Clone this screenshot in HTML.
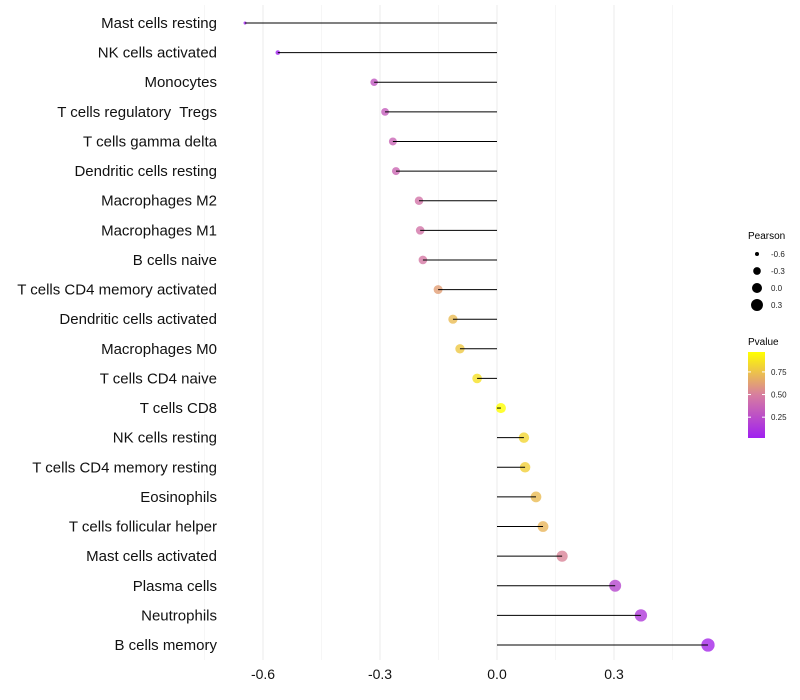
<!DOCTYPE html>
<html><head><meta charset="utf-8"><style>body{margin:0;background:#fff}svg{display:block;font-family:"Liberation Sans",sans-serif}text{white-space:pre}</style></head>
<body>
<svg id="chart" width="800" height="700"></svg>
<script>
const categories=["Mast cells resting","NK cells activated","Monocytes","T cells regulatory  Tregs","T cells gamma delta","Dendritic cells resting","Macrophages M2","Macrophages M1","B cells naive","T cells CD4 memory activated","Dendritic cells activated","Macrophages M0","T cells CD4 naive","T cells CD8","NK cells resting","T cells CD4 memory resting","Eosinophils","T cells follicular helper","Mast cells activated","Plasma cells","Neutrophils","B cells memory"];
const pearson=[-0.646,-0.562,-0.315,-0.287,-0.267,-0.259,-0.2,-0.197,-0.19,-0.151,-0.113,-0.095,-0.051,0.01,0.069,0.072,0.1,0.118,0.167,0.303,0.369,0.541];
const pvalues=[0.01,0.03,0.3,0.33,0.37,0.38,0.45,0.45,0.47,0.62,0.72,0.77,0.86,0.97,0.82,0.8,0.72,0.7,0.52,0.22,0.15,0.06];
const xTicks=[-0.6,-0.3,0.0,0.3];
const sizeLegend=[-0.6,-0.3,0.0,0.3];
const colorTicks=[0.75,0.5,0.25];
const NS="http://www.w3.org/2000/svg",svg=document.getElementById('chart');
function mk(t,a,p){const e=document.createElementNS(NS,t);for(const k in a)e.setAttribute(k,a[k]);(p||svg).appendChild(e);return e;}
const x=v=>497+v*390;
const y=i=>23+i*(622/21);
const rad=v=>Math.sqrt(Math.max(1.5,4+(v+0.6)*35.2));
const pmin=0.02,pmax=0.97;
function col(p){let t=Math.min(1,Math.max(0,(p-pmin)/(pmax-pmin)));const a=[160,32,240],b=[215,125,160],c=[255,255,0];let r;if(t<0.5){const s=t/0.5;r=a.map((v,k)=>v+(b[k]-v)*s);}else{const s=(t-0.5)/0.5;r=b.map((v,k)=>v+(c[k]-v)*s);}return `rgb(${r.map(Math.round).join(',')})`;}
[-0.75,-0.45,-0.15,0.15,0.45].forEach(v=>{const l=mk('line',{x1:x(v),x2:x(v),y1:5,y2:660,stroke:'#f0f0f0','stroke-width':0.6});});
xTicks.forEach(v=>{const l=mk('line',{x1:x(v),x2:x(v),y1:5,y2:660,stroke:'#ebebeb','stroke-width':1});
const t=mk('text',{x:x(v),y:679,'text-anchor':'middle','font-size':14,fill:'#111'});t.textContent=v.toFixed(1);});
categories.forEach((c,i)=>{
const d=mk('circle',{cx:x(pearson[i]),cy:y(i),r:rad(pearson[i]),fill:col(pvalues[i]),'fill-opacity':0.8});
const l=mk('line',{x1:x(0),x2:x(pearson[i]),y1:y(i),y2:y(i),stroke:'#000','stroke-width':1});
const t=mk('text',{x:217,y:y(i)+5,'text-anchor':'end','font-size':15,fill:'#111'});t.textContent=c;});
let t=mk('text',{x:748,y:239,'font-size':10,fill:'#000'});t.textContent='Pearson';
sizeLegend.forEach((v,i)=>{const cy=254+i*17;const c=mk('circle',{cx:757,cy:cy,r:rad(v),fill:'#000'});
const tt=mk('text',{x:771,y:cy+3,'font-size':8,fill:'#222'});tt.textContent=v.toFixed(1);});
t=mk('text',{x:748,y:345,'font-size':10,fill:'#000'});t.textContent='Pvalue';
const defs=mk('defs',{});const g=mk('linearGradient',{id:'pg',x1:0,y1:1,x2:0,y2:0},defs);
[0,0.5,1].forEach(o=>mk('stop',{offset:o,'stop-color':col(pmin+o*(pmax-pmin))},g));
const bar=mk('rect',{x:748,y:352,width:17,height:86,fill:'url(#pg)'});
colorTicks.forEach(v=>{const cy=438-(v-pmin)/(pmax-pmin)*86;mk('line',{x1:748,x2:751,y1:cy,y2:cy,stroke:'#fff'});mk('line',{x1:762,x2:765,y1:cy,y2:cy,stroke:'#fff'});
const tt=mk('text',{x:771,y:cy+3,'font-size':8,fill:'#222'});tt.textContent=v.toFixed(2);});
</script>
</body></html>
